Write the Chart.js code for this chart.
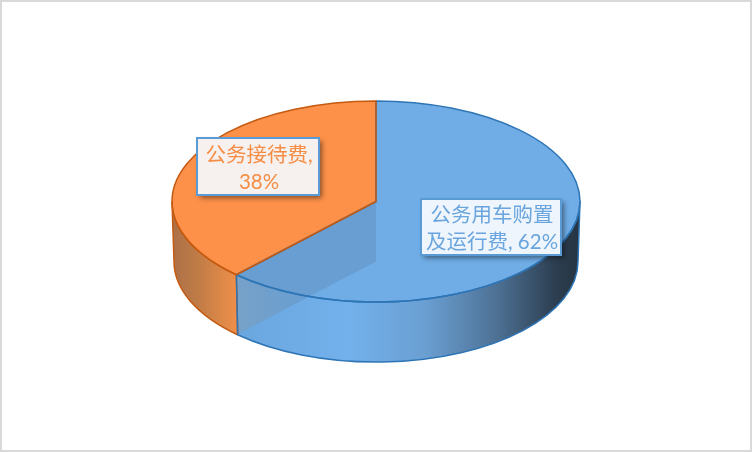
<!DOCTYPE html>
<html>
<head>
<meta charset="utf-8">
<style>
  html, body { margin: 0; padding: 0; background: #fff; }
  #chart { display: block; outline: 2px solid #d9d9d9; outline-offset: -2px; }
</style>
</head>
<body>
<canvas id="chart" width="752" height="452"></canvas>
<script src="https://cdn.jsdelivr.net/npm/chart.js@4/dist/chart.umd.min.js"></script>
<script>
// data
const categories = ['公务用车购置及运行费', '公务接待费'];
const percentages = [62, 38];
const labelLines = [['公务用车购置', '及运行费, 62%'], ['公务接待费,', '38%']];

// look of the tilted pie
const topColors = ['#70ade6', '#fd9149'];
const edgeColors = ['#2e75b6', '#c55a11'];
const textColors = ['#6aa5de', '#f58d44'];
const boxFills = ['#eff5fc', '#f6f1ef'];
const labelBoxes = [[421, 199, 140, 56], [197, 138, 122, 57]];
const CENTER_X = 376, CENTER_Y = 201.5, RADIUS = 204, RADIUS_Y = 100.5;
const DEPTH = 60, BOTTOM_RADIUS = 202, BOTTOM_RADIUS_Y = 100.5;
const SQUASH = RADIUS_Y / RADIUS;

const point = (a) => [CENTER_X + Math.cos(a) * RADIUS, CENTER_Y + Math.sin(a) * RADIUS_Y];

// side wall between two angles of the ellipse, the front half only
function wallPath(ctx, a0, a1) {
  ctx.beginPath();
  ctx.ellipse(CENTER_X, CENTER_Y, RADIUS, RADIUS_Y, 0, a0, a1);
  ctx.ellipse(CENTER_X, CENTER_Y + DEPTH, BOTTOM_RADIUS, BOTTOM_RADIUS_Y, 0, a1, a0, true);
  ctx.closePath();
}

function wallGradient(ctx, x0, x1, stops) {
  const g = ctx.createLinearGradient(x0, 0, x1, 0);
  stops.forEach(s => g.addColorStop(s[0], s[1]));
  return g;
}

const blueWall = [[0, '#6aa6de'], [0.32, '#73b1ec'], [0.55, '#6a9fd2'], [0.75, '#4f7397'], [0.93, '#2c3e50'], [1, '#263441']];
const orangeWall = [[0, '#ab7048'], [0.4, '#c07c46'], [1, '#ee8f4a']];
const wedgeGlare = [[0, 'rgba(190,190,190,0.22)'], [1, 'rgba(190,190,190,0)']];

const tiltedPie = {
  id: 'tiltedPie',
  beforeDatasetsDraw(chart) {
    const ctx = chart.ctx;
    const arcs = chart.getDatasetMeta(0).data;
    const split = arcs[0].endAngle;

    ctx.save();
    wallPath(ctx, 0, split);
    ctx.fillStyle = wallGradient(ctx, point(split)[0], CENTER_X + RADIUS, blueWall);
    ctx.fill();
    wallPath(ctx, split, Math.PI);
    ctx.fillStyle = wallGradient(ctx, CENTER_X - RADIUS, point(split)[0], orangeWall);
    ctx.fill();
    ctx.restore();

    // squash the library's arcs into the top ellipse
    ctx.save();
    ctx.translate(CENTER_X, CENTER_Y);
    ctx.scale(1, SQUASH);
    ctx.translate(-arcs[0].x, -arcs[0].y);
  },
  afterDatasetsDraw(chart) {
    const ctx = chart.ctx;
    ctx.restore();
    const arcs = chart.getDatasetMeta(0).data;
    const split = arcs[0].endAngle;
    const p = point(split);

    // the orange slice's inner wall shows through the blue one
    ctx.save();
    ctx.beginPath();
    ctx.moveTo(CENTER_X, CENTER_Y);
    ctx.lineTo(p[0], p[1]);
    ctx.lineTo(p[0], p[1] + DEPTH);
    ctx.lineTo(CENTER_X, CENTER_Y + DEPTH);
    ctx.closePath();
    ctx.fillStyle = 'rgba(88,128,165,0.32)';
    ctx.fill();

    // and looks greyer where it crosses the outer wall
    ctx.clip();
    wallPath(ctx, 0, split);
    ctx.fillStyle = wallGradient(ctx, p[0], p[0] + 70, wedgeGlare);
    ctx.fill();
    ctx.restore();

    // outlines, kept at an even width
    ctx.save();
    ctx.lineWidth = 1.5;
    ctx.lineJoin = 'round';
    ctx.strokeStyle = edgeColors[1];
    wallPath(ctx, split, Math.PI);
    ctx.stroke();
    ctx.strokeStyle = edgeColors[0];
    wallPath(ctx, 0, split);
    ctx.stroke();
    arcs.forEach((arc, i) => {
      ctx.strokeStyle = edgeColors[i];
      ctx.beginPath();
      ctx.moveTo(CENTER_X, CENTER_Y);
      ctx.ellipse(CENTER_X, CENTER_Y, RADIUS, RADIUS_Y, 0, arc.startAngle, arc.endAngle);
      ctx.closePath();
      ctx.stroke();
    });
    ctx.restore();

    // data labels
    labelLines.forEach((lines, i) => {
      const [x, y, w, h] = labelBoxes[i];
      ctx.save();
      ctx.shadowColor = 'rgba(0,0,0,0.45)';
      ctx.shadowBlur = 5;
      ctx.shadowOffsetX = 3;
      ctx.shadowOffsetY = 3;
      ctx.fillStyle = boxFills[i];
      ctx.fillRect(x, y, w, h);
      ctx.shadowColor = 'transparent';
      ctx.strokeStyle = '#5b9bd5';
      ctx.lineWidth = 2;
      ctx.strokeRect(x, y, w, h);
      ctx.fillStyle = textColors[i];
      ctx.font = '20.5px Lato, "Noto Sans CJK SC", sans-serif';
      ctx.textAlign = 'center';
      ctx.textBaseline = 'middle';
      lines.forEach((line, n) => ctx.fillText(line, x + w / 2 + 1, y + h / 2 + 2 + (n - 0.5) * 27));
      ctx.restore();
    });
  }
};

new Chart(document.getElementById('chart'), {
  type: 'pie',
  data: {
    labels: categories,
    datasets: [{ data: percentages, backgroundColor: topColors, borderWidth: 0, radius: RADIUS }]
  },
  options: {
    responsive: false,
    animation: false,
    devicePixelRatio: 1,
    plugins: { legend: { display: false }, tooltip: { enabled: false } }
  },
  plugins: [tiltedPie]
});
</script>
</body>
</html>
